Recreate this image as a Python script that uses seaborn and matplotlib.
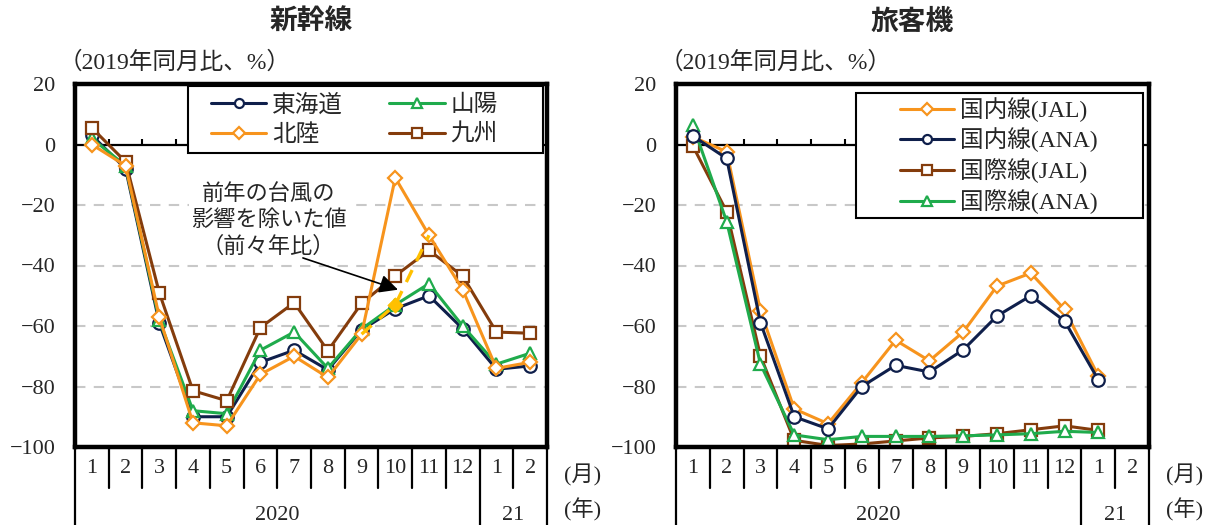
import matplotlib
matplotlib.use("Agg")
import matplotlib.pyplot as plt
from matplotlib.patches import Rectangle
import seaborn as sns

# data (2019 same-month ratio, %)
months = ["1", "2", "3", "4", "5", "6", "7", "8", "9", "10", "11", "12", "1", "2"]
years = ["2020", "21"]

tokaido = [3, -8, -59, -90, -90, -72, -68, -74.5, -61.3, -54.3, -50, -60.9, -74.3, -73.2]
sanyo = [2, -7, -58, -88, -89, -68, -62, -74, -61, -53, -46, -60, -72.6, -69]
hokuriku = [0, -7, -57, -92, -93, -76, -70, -77, -62.7, -11, -30, -48, -74, -72]
kyushu = [5.5, -5.7, -49, -81.4, -84.7, -60.5, -52.3, -68.2, -52.5, -43.4, -35, -43.5, -62, -62.4]
# typhoon-adjusted Hokuriku (Sep-Nov)
adj_x = [8, 9, 10]
adj_y = [-62.7, -53, -30]

dom_jal = [2.5, -2.4, -55, -87.4, -92.3, -78.7, -64.7, -71.5, -62, -46.8, -42.5, -54.5, -76.5]
dom_ana = [2.8, -4.6, -58.9, -90, -94, -80, -73, -75.2, -67.9, -56.7, -50, -58.3, -77.8]
int_jal = [-0.5, -22.2, -69.9, -97.8, -99.5, -99, -98, -97, -96.5, -95.6, -94.3, -93, -94.5]
int_ana = [6.4, -25.5, -72.6, -96, -97.6, -96.5, -96.5, -96.5, -96.3, -96, -95.6, -94.8, -95.2]

NAVY = "#0f1f4b"
GREEN = "#1fab4c"
ORANGE = "#f7941d"
BROWN = "#843c0c"
GOLD = "#ffc000"

sns.set_style("white")
plt.rcParams["font.family"] = ["Liberation Serif", "Noto Sans CJK JP"]
plt.rcParams["axes.unicode_minus"] = True

fig = plt.figure(figsize=(12.12, 5.25), dpi=100)
ax1 = fig.add_axes([75 / 1212, 78 / 525, 472 / 1212, 363 / 525])
ax2 = fig.add_axes([676 / 1212, 78 / 525, 473 / 1212, 363 / 525])


def draw_series(ax, vals, name, color, marker):
    x = list(range(len(vals)))
    ms = 6.8 if marker == "D" else 9
    sns.lineplot(x=x, y=vals, ax=ax, color=color, marker=marker, markersize=ms,
                 markerfacecolor="white", markeredgecolor=color, markeredgewidth=1.6,
                 linewidth=2.2, label=name)


def setup_axes(ax, title):
    ax.set_xlim(-0.5, 13.5)
    ax.set_ylim(-100, 20)
    ax.set_yticks(range(-100, 21, 20))
    ax.set_xticks([])
    ax.set_xlabel("")
    ax.set_ylabel("")
    ax.tick_params(axis="y", length=0, pad=14, labelsize=16)
    for g in [-20, -40, -60, -80]:
        ax.axhline(g, color="#c8c8c8", lw=1.5, ls=(0, (5, 4)), zorder=0)
    ax.axhline(0, color="black", lw=1.6, zorder=1)
    ax.vlines([i + 0.5 for i in range(13)], 0, 1.8, color="black", lw=1.5, zorder=1)
    for s in ax.spines.values():
        s.set_linewidth(3.2)
        s.set_color("black")

    # category table under the plot
    tr = ax.get_xaxis_transform()
    for i in range(15):
        b = i - 0.5
        bottom = -0.23 if i in (0, 12, 14) else -0.113
        ax.plot([b, b], [0, bottom], transform=tr, color="black", lw=1.6, clip_on=False)
    for i, m in enumerate(months):
        ax.text(i, -0.058, m, transform=tr, ha="center", va="center", fontsize=16)
    ax.text(5.5, -0.19, years[0], transform=tr, ha="center", va="center", fontsize=16)
    ax.text(12.5, -0.19, years[1], transform=tr, ha="center", va="center", fontsize=16)
    ax.text(1.035, -0.077, "(月)", transform=ax.transAxes, ha="left", va="center", fontsize=16)
    ax.text(1.035, -0.174, "(年)", transform=ax.transAxes, ha="left", va="center", fontsize=16)

    ax.text(0.5, 1.171, title, transform=ax.transAxes, ha="center", va="center",
            fontsize=20, fontweight="bold", family="Noto Sans CJK JP")
    ax.text(-0.035, 1.058, "（2019年同月比、%）", transform=ax.transAxes, ha="left",
            va="center", fontsize=17)


def legend_box(ax, x0, y0, x1, y1):
    ax.add_patch(Rectangle((x0, y0), x1 - x0, y1 - y0, transform=ax.transAxes,
                           facecolor="white", edgecolor="black", lw=1.5, zorder=8,
                           clip_on=False))


# 新幹線
draw_series(ax1, tokaido, "東海道", NAVY, "o")
draw_series(ax1, sanyo, "山陽", GREEN, "^")
draw_series(ax1, kyushu, "九州", BROWN, "s")
draw_series(ax1, hokuriku, "北陸", ORANGE, "D")
sns.lineplot(x=adj_x, y=adj_y, ax=ax1, color=GOLD, lw=2.4, ls=(0, (4, 3)), legend=False, zorder=5)
sns.scatterplot(x=[adj_x[1]], y=[adj_y[1]], ax=ax1, color=GOLD, marker="D", s=60,
                edgecolor=GOLD, legend=False, zorder=6)
ax1.text(5.24, -24.9, "前年の台風の\n影響を除いた値\n（前々年比）", ha="center", va="center",
         fontsize=16, linespacing=1.2, family="Noto Sans CJK JP",
         bbox=dict(facecolor="white", edgecolor="none", pad=1), zorder=4)
ax1.annotate("", xy=(9.08, -48), xytext=(6.26, -37.5),
             arrowprops=dict(arrowstyle="-|>", color="black", lw=1.2, mutation_scale=28,
                             shrinkA=0, shrinkB=0), zorder=7)
setup_axes(ax1, "新幹線")
h, l = ax1.get_legend_handles_labels()
order = ["東海道", "北陸", "山陽", "九州"]
hd = dict(zip(l, h))
legend_box(ax1, 0.239, 0.81, 0.9915, 0.994)
leg = ax1.legend([hd[k] for k in order], order, ncol=2, loc="center left",
                 bbox_to_anchor=(0.288, 0.902), frameon=False, handlelength=2.35,
                 handletextpad=0.25, columnspacing=1.95, borderaxespad=0, borderpad=0,
                 labelspacing=0.28, prop={"family": ["Noto Sans CJK JP"], "size": 17})
leg.set_zorder(9)
for hh in leg.legend_handles:
    hh.set_markersize(6.5)

# 旅客機
draw_series(ax2, int_jal, "国際線(JAL)", BROWN, "s")
draw_series(ax2, int_ana, "国際線(ANA)", GREEN, "^")
draw_series(ax2, dom_jal, "国内線(JAL)", ORANGE, "D")
draw_series(ax2, dom_ana, "国内線(ANA)", NAVY, "o")
setup_axes(ax2, "旅客機")
h, l = ax2.get_legend_handles_labels()
order = ["国内線(JAL)", "国内線(ANA)", "国際線(JAL)", "国際線(ANA)"]
hd = dict(zip(l, h))
legend_box(ax2, 0.3805, 0.631, 0.987, 0.975)
leg = ax2.legend([hd[k] for k in order], order, ncol=1, loc="center",
                 bbox_to_anchor=(0.682, 0.803), frameon=False, handlelength=2.3,
                 handletextpad=0.25, borderaxespad=0, borderpad=0, labelspacing=0.25,
                 prop={"family": ["Liberation Serif", "Noto Sans CJK JP"], "size": 17})
leg.set_zorder(9)
for hh in leg.legend_handles:
    hh.set_markersize(6.5)

fig.savefig("out.png", dpi=100)
